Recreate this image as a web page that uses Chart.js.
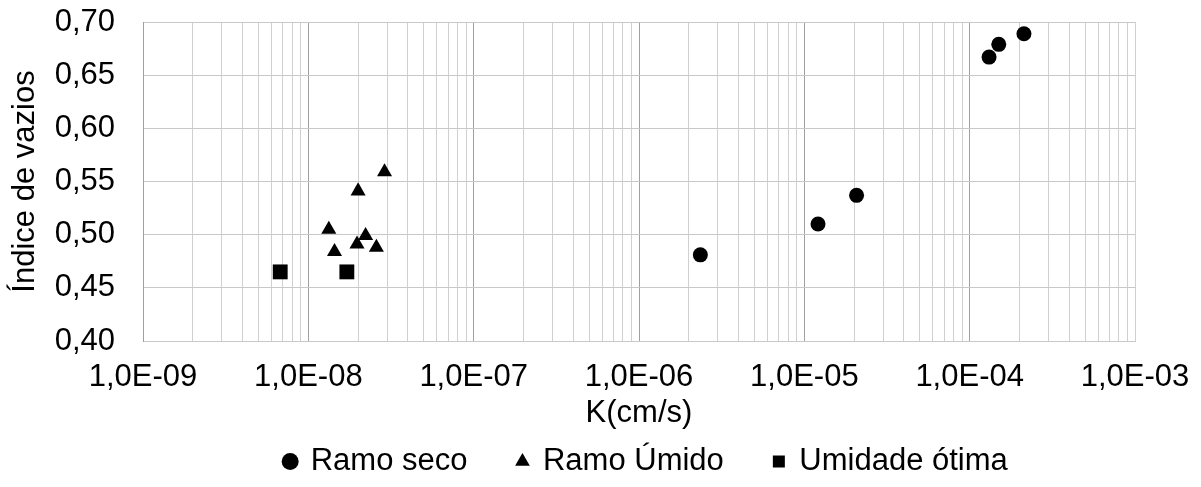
<!DOCTYPE html>
<html>
<head>
<meta charset="utf-8">
<script src="https://cdn.jsdelivr.net/npm/chart.js@4.4.1/dist/chart.umd.min.js"></script>
<style>
  html, body { margin: 0; padding: 0; background: #fff; }
  #wrap { width: 1201px; height: 487px; }
</style>
</head>
<body>
<div id="wrap"><canvas id="chart"></canvas></div>
<script>
const seriesNames = ['Ramo seco', 'Ramo Úmido', 'Umidade ótima']

// K (cm/s) and void ratio
const secoK = [2.35e-6, 1.21e-5, 2.07e-5, 1.31e-4, 1.50e-4, 2.13e-4]
const secoE = [0.481, 0.510, 0.537, 0.667, 0.679, 0.689]

const umidoK = [1.33e-8, 1.44e-8, 2.0e-8, 1.97e-8, 2.22e-8, 2.58e-8, 2.89e-8]
const umidoE = [0.505, 0.484, 0.541, 0.491, 0.499, 0.488, 0.559]

const otimaK = [6.76e-9, 1.71e-8]
const otimaE = [0.465, 0.465]

const xDecades = [-9, -8, -7, -6, -5, -4, -3]
const xTickLabels = ['1,0E-09', '1,0E-08', '1,0E-07', '1,0E-06', '1,0E-05', '1,0E-04', '1,0E-03']
const yTickValues = [0.40, 0.45, 0.50, 0.55, 0.60, 0.65, 0.70]
const yTickLabels = ['0,40', '0,45', '0,50', '0,55', '0,60', '0,65', '0,70']

// gridlines 1..9 in every decade, like excel
const xGrid = []
xDecades.forEach((d, i) => {
    const steps = i < xDecades.length - 1 ? 9 : 1
    for (let m = 1; m <= steps; m++) xGrid.push({ value: m * Math.pow(10, d), major: m === 1 && i < xDecades.length - 1 })
})

const toPoints = (xs, ys) => xs.map((x, i) => ({ x: x, y: ys[i] }))

Chart.defaults.font.family = "'Liberation Sans', Arial, sans-serif"
Chart.defaults.font.size = 31
Chart.defaults.color = '#000'

const legendShift = {
    id: 'legendShift',
    afterLayout(chart) {
        chart.legend.left += 46
        chart.legend.right += 46
    }
}

const canvasChart = document.getElementById('chart')

const myChart = new Chart(canvasChart, {
    type: 'scatter',
    data: {
        datasets: [{
            label: seriesNames[0],
            data: toPoints(secoK, secoE),
            pointStyle: 'circle',
            pointRadius: 7.5,
            backgroundColor: '#000',
            borderColor: '#000',
            pointBorderWidth: 0
        }, {
            label: seriesNames[1],
            data: toPoints(umidoK, umidoE),
            pointStyle: 'triangle',
            pointRadius: 8.7,
            backgroundColor: '#000',
            borderColor: '#000',
            pointBorderWidth: 0
        }, {
            label: seriesNames[2],
            data: toPoints(otimaK, otimaE),
            pointStyle: 'rect',
            pointRadius: 10.5,
            backgroundColor: '#000',
            borderColor: '#000',
            pointBorderWidth: 0
        }]
    },
    options: {
        responsive: true,
        maintainAspectRatio: false,
        animation: false,
        layout: { padding: 0 },
        scales: {
            x: {
                type: 'logarithmic',
                min: 1e-9,
                max: 1e-3,
                afterBuildTicks: s => { s.ticks = xGrid.map(t => ({ value: t.value, major: t.major })) },
                afterFit: s => {
                    s.height = 55
                    s.paddingLeft = 0
                    s.paddingRight = 66
                },
                ticks: {
                    autoSkip: false,
                    maxRotation: 0,
                    padding: 18,
                    callback: (v) => {
                        const k = xDecades.indexOf(Math.round(Math.log10(v)))
                        return Math.abs(v / Math.pow(10, xDecades[k]) - 1) < 1e-6 ? xTickLabels[k] : ''
                    }
                },
                grid: {
                    drawTicks: false,
                    color: c => (c.tick && c.tick.major) ? '#a0a0a0' : '#d0d0d0'
                },
                border: { color: '#c8c8c8' },
                title: { display: true, text: 'K(cm/s)', padding: { top: 0, bottom: -36 } }
            },
            y: {
                min: 0.4,
                max: 0.7,
                afterBuildTicks: s => { s.ticks = yTickValues.map(v => ({ value: v })) },
                afterFit: s => {
                    s.width = 143
                    s.paddingTop = 22
                    s.paddingBottom = 0
                },
                ticks: {
                    padding: 28,
                    callback: (v, i) => yTickLabels[i]
                },
                grid: { drawTicks: false, color: '#c8c8c8' },
                border: { color: '#a0a0a0' },
                title: { display: true, text: 'Índice de vazios', padding: { top: 7, bottom: 0 } }
            }
        },
        plugins: {
            tooltip: { enabled: false },
            legend: {
                position: 'bottom',
                labels: {
                    usePointStyle: true,
                    boxWidth: 10,
                    boxHeight: 12,
                    padding: 50,
                    color: '#000'
                }
            }
        }
    },
    plugins: [legendShift]
})
</script>
</body>
</html>
